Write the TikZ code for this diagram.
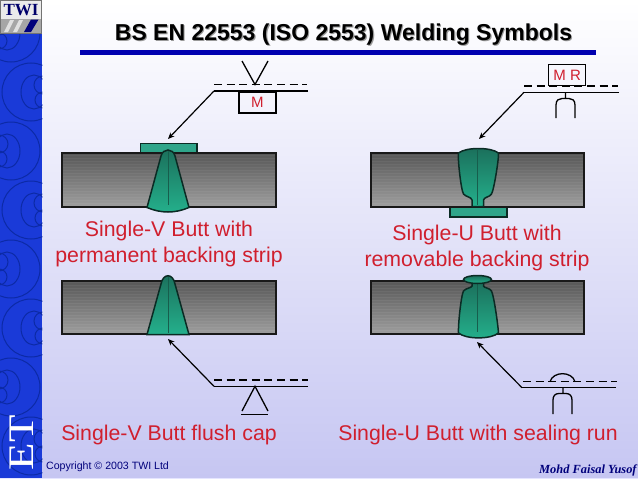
\documentclass[tikz,border=0pt]{standalone}
\usepackage{fontspec}
\setmainfont{Liberation Sans}
\newfontfamily\serifet{Liberation Serif}
\usetikzlibrary{arrows.meta}
\definecolor{redtxt}{HTML}{D01F2E}
\definecolor{titleblue}{HTML}{0000B0}
\definecolor{weldline}{HTML}{0B2B24}
\definecolor{stripblue}{HTML}{1A3AD8}
\definecolor{swirl}{HTML}{0C2AA6}
\definecolor{weldtop}{HTML}{1B6F5B}
\definecolor{weldbot}{HTML}{24B08C}
\definecolor{backfill}{HTML}{2FA58A}
\definecolor{bgtop}{HTML}{FFFFFF}
\definecolor{bgmid}{HTML}{EBEBFC}
\definecolor{bgbot}{HTML}{C6C6F2}
\tikzset{
  plate/.style={draw=black!90,line width=2pt,bottom color=black!38,top color=black!66,
    path picture={\foreach \i in {2,5,...,53} \draw[white,opacity=.05,line width=1pt] (path picture bounding box.north west) ++(0,\i) -- ++(220,0);}},
  weld/.style={draw=weldline,line width=1.5pt,top color=weldtop,bottom color=weldbot},
  backing/.style={draw=weldline,line width=1.8pt,fill=backfill},
  midline/.style={draw=weldtop!85!black,line width=.8pt},
  refline/.style={draw=black,line width=1.3pt},
  dashline/.style={draw=black,line width=1.3pt,dash pattern=on 8pt off 4.6pt},
  leader/.style={draw=black,line width=1.2pt,-{Stealth[length=6.5pt,width=5.5pt]}},
  sym/.style={draw=black,line width=1.3pt},
  capt/.style={text=redtxt,font=\fontsize{21.3}{26}\selectfont,align=center,inner sep=0pt},
  symbox/.style={draw=black,line width=1.2pt,text=redtxt,font=\fontsize{15}{16}\selectfont,inner sep=0pt,minimum height=21pt},
  swirlline/.style={draw=swirl,line width=1pt},
}
\newcommand{\swA}[1]{%
  \draw[swirlline] (31,#1) circle [radius=29];
  \draw[swirlline] (34,#1) ellipse [x radius=13,y radius=17];
  \draw[swirlline] (43,#1-7) circle [radius=9] (43,#1+8) circle [radius=8];
}
\newcommand{\swB}[1]{%
  \draw[swirlline] (11,#1) circle [radius=29];
  \draw[swirlline] (7,#1) ellipse [x radius=13,y radius=17];
  \draw[swirlline] (-1,#1-7) circle [radius=9] (-1,#1+8) circle [radius=8];
}
\begin{document}
\begin{tikzpicture}[x=1pt,y=-1pt]
\useasboundingbox (0,0) rectangle (638,479);
% background
\shade[top color=bgtop,middle color=bgmid,bottom color=bgbot] (0,0) rectangle (638,478);
\fill[white!90!blue] (0,477.7) rectangle (638,479);
% strip
\begin{scope}
\clip (0,0) rectangle (42.3,477.7);
\fill[stripblue] (0,0) rectangle (42.3,477.7);
\swB{33}\swA{92}\swB{151}\swA{210}\swB{269}\swA{328}\swB{387}\swA{446}
\end{scope}
% logo
\fill[white!92!black] (0,0) rectangle (42,19);
\fill[black!35] (0,19) rectangle (42,34);
\draw[black!55,line width=.7pt] (.3,.3) rectangle (41.7,33.7);
\fill[white!88!black] (4,32) -- (10,20) -- (14,20) -- (8,32) -- cycle
  (13,32) -- (19,20) -- (23,20) -- (17,32) -- cycle;
\fill[titleblue!70!black] (24,32) -- (31,19.5) -- (38.5,19.5) -- (31,32) -- cycle;
\node[inner sep=0pt,text=titleblue!60!black,font=\serifet\bfseries\fontsize{17}{17}\selectfont] (logo) at (21,10.5) {TWI};
% ET
\node[rotate=90,xscale=1.25,text=white,inner sep=0pt,font=\serifet\fontsize{36}{36}\selectfont] (et) at (22,443) {ET};
% title
\node[inner sep=0pt,text=black!40,font=\bfseries\fontsize{23}{26}\selectfont] (titleshadow) at (344.6,35.6) {BS EN 22553 (ISO 2553) Welding Symbols};
\node[inner sep=0pt,text=black,font=\bfseries\fontsize{23}{26}\selectfont] (title) at (343.5,34.5) {BS EN 22553 (ISO 2553) Welding Symbols};
\fill[titleblue] (79.5,50) rectangle (595.5,55);
% --------- top-left
\draw[backing] (140.5,143.5) rectangle (197,153);
\draw[plate] (61.5,153) rectangle (275.5,206.5);
\draw[weld] (147,207.5) -- (161,156) .. controls (163,148) and (173,148) .. (175,156) -- (189,207.5) .. controls (175,213.5) and (161,213.5) .. (147,207.5) -- cycle;
\draw[midline] (168,151) -- (168,205);
\coordinate (k1) at (214,91); \coordinate (e1) at (308,91); \coordinate (t1) at (168,139);
\draw[dashline] (214,84.5) -- (307,84.5);
\draw[refline] (e1) -- (k1);
\draw[leader] (k1) -- (t1);
\draw[sym] (242,61) -- (255,84.5) -- (268,61);
\node[symbox,minimum width=37pt,anchor=north west] (m1) at (238.3,91.3) {M};
% --------- top-right
\draw[backing] (450,207) rectangle (507,217);
\draw[plate] (370.5,153) rectangle (584,206.5);
\draw[weld] (458.5,153) .. controls (466,147) and (491,147) .. (498.5,153) .. controls (499,158) and (494,190) .. (491.5,194) .. controls (490,197) and (484,197) .. (483.5,200) -- (483.5,206.5) -- (472,206.5) -- (472,200) .. controls (471.5,197) and (466,197) .. (463.5,194) .. controls (461,190) and (457.5,158) .. (458.5,153) -- cycle;
\draw[midline] (477.5,149) -- (477.5,205);
\coordinate (k2) at (524,92.3); \coordinate (e2) at (619,92.3); \coordinate (t2) at (479,139);
\draw[dashline] (524,86) -- (618,86);
\draw[refline] (e2) -- (k2);
\draw[leader] (k2) -- (t2);
\node[symbox,minimum width=37pt,anchor=south west,fill=none] (mr) at (548,86.3) {M R};
\draw[sym] (565.5,92.3) -- (565.5,98) (556,118) -- (556,105) .. controls (556,100) and (559,98.5) .. (562,98.5) -- (569,98.5) .. controls (572,98.5) and (575,100) .. (575,105) -- (575,118);
% --------- captions
\node[capt] (c1) at (169,244) {Single-V Butt with\\permanent backing strip};
\node[capt] (c2) at (477,248) {Single-U Butt with\\removable backing strip};
\node[capt] (c3) at (169,434.5) {Single-V Butt flush cap};
\node[capt] (c4) at (478,434.5) {Single-U Butt with sealing run};
% --------- bottom-left
\draw[plate] (61.5,280.5) rectangle (275.5,334);
\draw[weld] (147,334.5) -- (161,284) .. controls (163,273) and (173,273) .. (175,284) -- (189,334.5) -- cycle;
\draw[midline] (168,277) -- (168,333);
\coordinate (k3) at (214,386.3); \coordinate (e3) at (308,386.3); \coordinate (t3) at (168,339);
\draw[dashline] (214,380) -- (308,380);
\draw[refline] (e3) -- (k3);
\draw[leader] (k3) -- (t3);
\draw[sym] (242,411) -- (255,386.3) -- (268,411);
\draw[sym] (241,414.3) -- (268,414.3);
% --------- bottom-right
\draw[plate] (370.5,280.5) rectangle (584,334);
\draw[weld] (458.5,333) .. controls (466,339.5) and (491,339.5) .. (498.5,333) .. controls (498,325) and (494,296) .. (491.5,291) .. controls (490,288) and (484,288) .. (483.5,286) -- (483.5,281) -- (472,281) -- (472,286) .. controls (471.5,288) and (466,288) .. (463.5,291) .. controls (461,296) and (458,325) .. (458.5,333) -- cycle;
\draw[midline] (477.5,283) -- (477.5,332);
\draw[weld] (477.5,279.5) ellipse [x radius=14,y radius=4];
\coordinate (k4) at (522,387.7); \coordinate (e4) at (616,387.7); \coordinate (t4) at (477,342);
\draw[dashline] (523,381.7) -- (617,381.7);
\draw[refline] (e4) -- (k4);
\draw[leader] (k4) -- (t4);
\draw[sym] (550,381.7) .. controls (553,371) and (572,371) .. (575,381.7);
\draw[sym] (563,387.7) -- (563,393.5) (553,414) -- (553,400) .. controls (553,396) and (555,393.5) .. (559,393.5) -- (566,393.5) .. controls (570,393.5) and (572,396) .. (572,400) -- (572,414);
% footer
\node[anchor=west,inner sep=0pt,text=titleblue!70!black,font=\fontsize{10.6}{12}\selectfont] (copy) at (46,467) {Copyright © 2003 TWI Ltd};
\node[anchor=west,inner sep=0pt,text=titleblue!70!black,font=\serifet\bfseries\itshape\fontsize{12.4}{14}\selectfont] (auth) at (539,470) {Mohd Faisal Yusof};
\end{tikzpicture}
\end{document}
